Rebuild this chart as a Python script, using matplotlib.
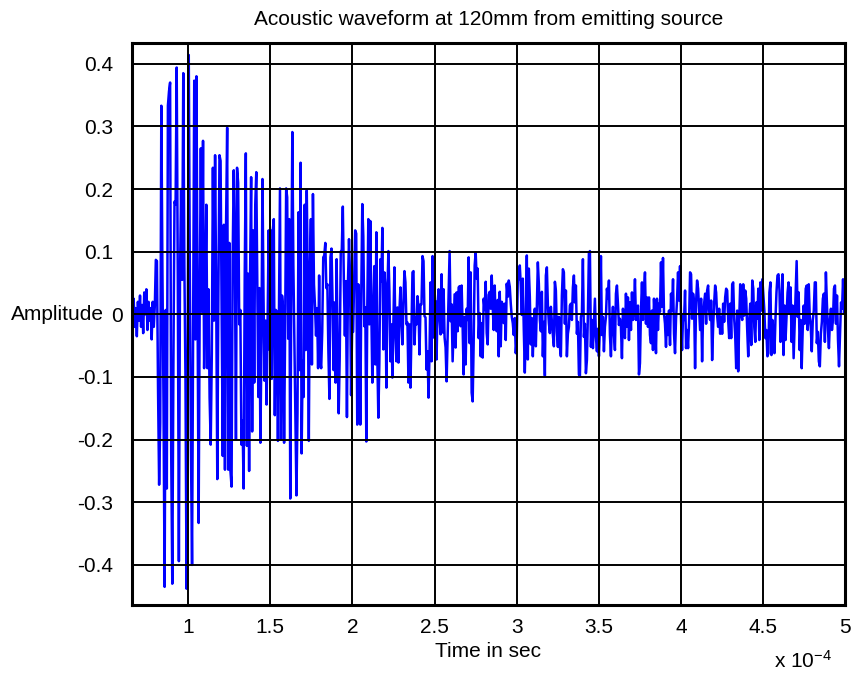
import matplotlib
matplotlib.use('Agg')
import matplotlib.pyplot as plt
import matplotlib.transforms as mtransforms
import numpy as np
from matplotlib.ticker import FuncFormatter, FixedLocator

plt.rcParams['font.family'] = ['Liberation Sans', 'DejaVu Sans']
plt.rcParams['axes.unicode_minus'] = False
plt.rcParams['mathtext.default'] = 'regular'

# waveform, one stretch at a time (amplitude)
pre_noise = [0.02, -0.03, 0.025, -0.02, 0.01, -0.035, 0.02, -0.01, 0.03, -0.02, 0.015, -0.03,
             0.035, 0.0, 0.04, -0.025, 0.02, -0.01, 0.01, -0.04, 0.02, -0.02, 0.015]
burst_a = [0.087, 0.085, -0.118, -0.272, -0.173, 0.333, 0.068, -0.144, -0.435, 0.007,
           -0.278, 0.333, 0.356, 0.37, -0.22, -0.43, -0.08, 0.18, 0.175, 0.394,
           0.06, -0.394, 0.055, 0.2, 0.055, 0.385, 0.077, -0.1, -0.438, -0.083,
           0.414, 0.06, -0.214, -0.4, -0.016, 0.373, -0.04, 0.38, 0.03, -0.333,
           0.03, 0.265, 0.004, 0.277, -0.086, 0.03, 0.175, -0.086, 0.04, -0.133,
           -0.208, -0.063, 0.234, -0.01, 0.254, 0.036, -0.263, 0.036, 0.254, 0.245,
           -0.005, -0.226, 0.143, -0.248, 0.143, 0.298, -0.248, 0.114, -0.25, -0.275,
           0.088, 0.23, 0.106, -0.199, 0.234, 0.21, -0.016, 0.007, -0.208, -0.17,
           -0.278, 0.062, 0.257, -0.21, 0.065, -0.25]
burst_b = [0.065, 0.219, -0.187, 0.134, -0.109, 0.175, 0.227, 0.042, -0.132, 0.042,
           -0.205, -0.045, 0.216, 0.03, -0.106, -0.01, -0.144, -0.013, 0.134, -0.057,
           0.134, -0.103, 0.134, 0.152, -0.161, 0.007, 0.004, -0.202, -0.005, 0.201,
           -0.199, 0.03, 0.01, -0.205, -0.025, 0.201, 0.187, -0.039, 0.152, -0.294,
           0.053, 0.291, 0.077, -0.048, -0.161, -0.289, -0.158, 0.163, -0.089, 0.242,
           -0.222, -0.074, -0.132, 0.175, -0.057, 0.198, 0.042, -0.202, 0.071, 0.152,
           -0.08, 0.192, 0.048, 0.013, -0.034, 0.01, -0.086, 0.062, -0.074, -0.086,
           -0.028, 0.091, 0.094, 0.114, 0.042, 0.048, -0.06, -0.135, 0.091, 0.105,
           0.024, -0.089, 0.019, -0.109, 0.088, -0.063, -0.158, -0.068, 0.1, 0.103,
           0.172, 0.053, -0.034, 0.053, -0.164, 0.053, 0.12, 0.062, -0.129, -0.028,
           -0.028, 0.053, 0.134, 0.129, -0.176, 0.048, 0.019]
decay = [-0.176, 0.037, 0.176, 0.125, -0.019, 0.011, -0.203, 0.013, 0.152, -0.016,
         0.149, 0.005, -0.109, 0.008, 0.077, -0.08, 0.131, -0.072, -0.165, -0.077,
         0.088, 0.053, 0.138, -0.056, 0.067, 0.043, -0.117, 0.037, 0.101, 0.037,
         -0.075, -0.016, -0.101, -0.013, 0.075, -0.027, -0.075, 0.011, -0.077, 0.005,
         0.043, -0.011, -0.048, 0.021, 0.069, 0.051, -0.016, -0.013, -0.109, -0.016,
         -0.117, -0.029, 0.067, 0.069, -0.048, -0.005, -0.016, 0.029, 0.011, -0.064,
         0.016, 0.016, 0.093, 0.085, -0.003, -0.005, -0.088, -0.059, -0.133, -0.059,
         0.051, -0.075, 0.093, -0.037, -0.005, 0.021, -0.072, 0.016, 0.04, -0.005,
         -0.032, 0.064, -0.029, 0.04, -0.037, -0.053, -0.107, -0.037, 0.029, 0.101,
         -0.011, 0.016, -0.075, -0.021, 0.032, -0.053, 0.035, -0.027, 0.043, 0.045]
tail_a = [-0.019, 0.046, -0.019, -0.096, -0.004, -0.08, 0.009, -0.009, 0.091, -0.046,
          0.067, -0.125, -0.139, -0.046, 0.078, 0.099, 0.057, 0.073, -0.038, 0.002,
          -0.067, -0.014, -0.069, 0.025, 0.007, 0.052, -0.03, -0.048, 0.031, 0.036,
          0.009, 0.062, 0.012, -0.025, 0.046, -0.019, -0.027, 0.023, -0.067, 0.036,
          -0.051, 0.02, 0.015, -0.014, 0.017, -0.041, 0.049, 0.028, 0.054, 0.044,
          0.017, -0.004, -0.014, -0.033, -0.006, -0.062, -0.038, 0.054, 0.057, 0.078,
          0.046, -0.001, 0.057, -0.025, -0.093, -0.019, 0.094, -0.072, 0.073, 0.028,
          -0.048, -0.006, -0.067, -0.014, 0.009, -0.051, 0.012, 0.083, 0.049, -0.009,
          -0.027, 0.036, -0.067, -0.012, -0.098, 0.062, 0.075, 0.015, -0.014, -0.03,
          0.012, -0.012, -0.033, -0.051, 0.052]
tail_b = [0.038, -0.028, -0.052, -0.004, -0.052, -0.067, 0.03, 0.072, 0.067, -0.015,
          0.038, -0.067, -0.031, -0.02, 0.014, 0.017, -0.009, 0.043, 0.062, 0.019,
          0.046, -0.031, -0.012, -0.096, -0.099, -0.004, 0.001, 0.088, -0.036, -0.015,
          -0.094, -0.073, 0.001, 0.098, 0.101, -0.052, -0.009, -0.054, -0.015, 0.025,
          -0.036, -0.059, -0.023, -0.067, -0.02, 0.093, -0.033, -0.004, -0.059, -0.02,
          -0.004, 0.041, 0.025, 0.054, -0.033, -0.067, -0.012, 0.012, -0.031, -0.057,
          0.033, 0.046, 0.017, -0.017, -0.007, -0.02, -0.07, 0.009, -0.023, -0.038,
          0.033, -0.02, 0.027, -0.041, 0.019, -0.025, 0.035, -0.009, 0.009, 0.056,
          -0.009, 0.001, 0.014, -0.096, -0.078, 0.006, 0.051, -0.009, 0.035, 0.067,
          -0.015, 0.027, -0.02, 0.027, -0.033]
tail_c = [-0.046, 0.006, -0.057, 0.025, -0.009, -0.062, 0.025, -0.025, 0.017, 0.004,
          0.083, 0.012, 0.09, 0.001, -0.015, -0.052, -0.002, -0.033, 0.006, -0.049,
          0.033, 0.006, 0.056, -0.031, -0.062, -0.007, 0.022, 0.067, 0.022, 0.077,
          -0.009, -0.057, -0.002, -0.009, 0.038, -0.054, -0.025, -0.054, -0.012, 0.067,
          0.064, -0.007, 0.033, 0.019, -0.086, 0.019, 0.054, 0.041, 0.009, -0.025,
          0.025, -0.075, 0.001, 0.017, 0.033, -0.015, 0.038, 0.046, 0.006, -0.009,
          0.022, -0.073, -0.02, 0.017, 0.046, 0.035, -0.002, -0.02, 0.009, -0.031,
          -0.004, -0.031, 0.017, -0.012, 0.027, 0.041, 0.038, -0.009, -0.038, 0.017,
          -0.038, 0.048, 0.051, -0.007, -0.033, -0.086, 0.006, -0.091, -0.009, 0.048,
          0.001, -0.009, 0.048, -0.002, 0.038]
tail_d = [0.025, -0.025, -0.067, -0.009, 0.017, -0.049, 0.054, 0.041, -0.02, -0.044,
          0.019, -0.007, 0.041, -0.041, 0.051, 0.006, 0.056, 0.03, 0.006, -0.038,
          -0.025, -0.067, -0.062, 0.035, 0.051, -0.065, -0.009, -0.031, -0.062, -0.007,
          0.035, 0.062, 0.064, 0.038, -0.044, -0.009, 0.064, -0.065, 0.014, -0.041,
          -0.004, 0.035, 0.051, 0.001, 0.043, -0.044, 0.014, -0.07, -0.017, 0.033,
          0.085, -0.004, 0.035, -0.057, -0.009, -0.086, -0.025, 0.014, -0.015, 0.041,
          0.046, -0.025, 0.048, -0.004, -0.02, -0.059, -0.009, 0.006, 0.051, 0.051,
          -0.046, -0.028, -0.075, -0.083, -0.031, -0.012, 0.025, 0.033, -0.044, 0.067,
          0.017, -0.025, -0.054, -0.009, 0.009, -0.025, -0.009, 0.041, 0.046, -0.015,
          0.03, -0.041, -0.083, -0.031, 0.019, 0.009, 0.056, 0.001, 0.027]

segments = [pre_noise, burst_a, burst_b, decay, tail_a, tail_b, tail_c, tail_d]
# start / end time of each stretch, in units of 1e-4 s
seg_start = [0.655, 0.803, 1.377, 2.048, 2.659, 3.239, 3.818, 4.398]
seg_end = [0.797, 1.371, 2.042, 2.653, 3.233, 3.812, 4.392, 5.0]

x_ticks = [1.0, 1.5, 2.0, 2.5, 3.0, 3.5, 4.0, 4.5, 5.0]
y_ticks = [-0.4, -0.3, -0.2, -0.1, 0.0, 0.1, 0.2, 0.3, 0.4]

t = np.concatenate([np.linspace(a, b, len(s)) for s, a, b in zip(segments, seg_start, seg_end)]) * 1e-4
amp = np.concatenate([np.array(s) for s in segments])

fig = plt.figure(figsize=(8.53, 6.73), dpi=100)
ax = fig.add_axes([0.1542, 0.101, 0.8365, 0.835])
ax.plot(t, amp, color='#0000ff', linewidth=1.8)

ax.set_xlim(0.655e-4, 5.0e-4)
ax.set_ylim(-0.464, 0.433)
ax.xaxis.set_major_locator(FixedLocator([v * 1e-4 for v in x_ticks]))
ax.yaxis.set_major_locator(FixedLocator(y_ticks))
ax.xaxis.set_major_formatter(FuncFormatter(lambda v, p: '%g' % round(v * 1e4, 2)))
ax.yaxis.set_major_formatter(FuncFormatter(lambda v, p: '%g' % round(v, 2)))

ax.set_axisbelow(False)
ax.grid(True, color='black', linestyle='-', linewidth=1.4)
for sp in ax.spines.values():
    sp.set_linewidth(2.2)
ax.tick_params(direction='in', length=0, labelsize=15)
ax.tick_params(axis='y', pad=13)
ax.tick_params(axis='x', pad=9)

# the "0" label sits a little to the right in the original
zero_tick = ax.yaxis.get_major_ticks()[y_ticks.index(0.0)]
zero_tick.label1.set_transform(zero_tick.label1.get_transform() +
                               mtransforms.ScaledTranslation(9 / 100, 0, fig.dpi_scale_trans))

ax.set_title('Acoustic waveform at 120mm from emitting source', fontsize=15, pad=13)
ax.set_xlabel('Time in sec', fontsize=15, labelpad=4)
ax.set_ylabel('Amplitude', fontsize=15, rotation=0, ha='right', va='center')
ax.yaxis.set_label_coords(-0.038, 0.517)
fig.text(832 / 853, 1 - 668 / 673, r'x 10$^{-4}$', fontsize=15, ha='right', va='baseline')

fig.savefig('out.png', dpi=100)
